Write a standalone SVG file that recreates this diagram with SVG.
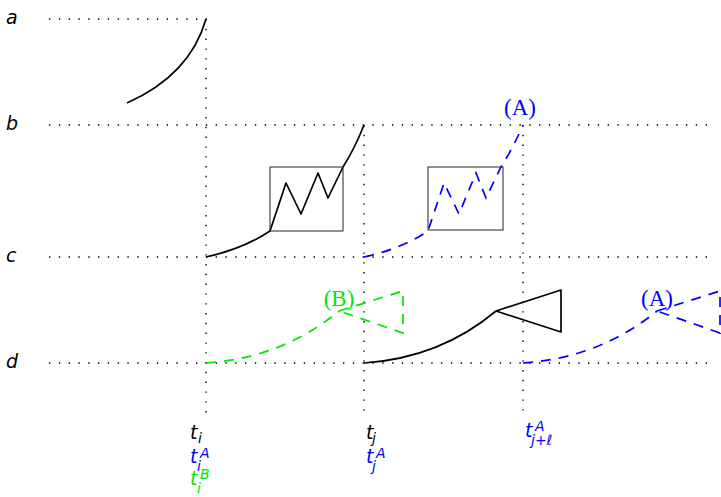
<svg xmlns="http://www.w3.org/2000/svg" width="721" height="497" viewBox="0 0 721 497">
<style>
.dot{stroke:#000;stroke-width:1.4;stroke-dasharray:1.4 8.4;fill:none}
.blk{stroke:#000;stroke-width:1.7;fill:none;stroke-linejoin:round}
.box{stroke:#222;stroke-width:1;fill:none}
.blu{stroke:#0000ff;stroke-width:1.7;fill:none;stroke-dasharray:10 8}
.grn{stroke:#00e600;stroke-width:1.7;fill:none;stroke-dasharray:10 8}
.lab{font-family:"DejaVu Sans",sans-serif;font-style:italic;font-size:19px}
.sc{font-family:"DejaVu Sans",sans-serif;font-style:italic;font-size:14px}
.ser{font-family:"Liberation Serif","DejaVu Serif",serif;font-size:23px;text-anchor:middle}
</style>
<rect width="721" height="497" fill="#fff"/>
<g id="grid">
<path class="dot" d="M49,19H207M49,125H707M49,257H707M49,363H707"/>
<path class="dot" d="M206,19V414M364,125V414M523,125V414"/>
</g>
<g id="levels" class="lab">
<text x="6" y="24">a</text>
<text x="6" y="130">b</text>
<text x="6" y="262">c</text>
<text x="6" y="368">d</text>
</g>
<g id="connectors">
<path class="blk" d="M127,103Q190,75 206,19"/>
<path class="blk" d="M206,257Q243,249 270,231L286,183L301,214L318,173L328,198L343,167Q355,148 364,125"/>
<rect class="box" x="270" y="167" width="73" height="64"/>
<path class="blu" d="M364,257Q401,249 428,231L444,183L459,214L476,173L486,198L501,167Q513,148 523,125"/>
<rect class="box" x="428" y="167" width="75" height="63"/>
<path class="blk" d="M364,363Q440,358 496,311M496,311L561,290V332Z"/>
<path class="grn" d="M206,363Q282,358 339,311M339,311L403,291V333Z"/>
<path class="blu" d="M523,363Q599,358 657,311M657,311L720,291V333Z"/>
</g>
<g id="tags" class="ser">
<text x="520" y="115" fill="#0000ff">(A)</text>
<text x="339" y="306" fill="#00e600">(B)</text>
<text x="657" y="306" fill="#0000ff">(A)</text>
</g>
<g id="times">
<g id="ti"><text class="lab" x="190" y="439">t</text><text class="sc" x="198" y="443">i</text></g>
<g id="tiA" fill="#0000ff"><text class="lab" x="190" y="463">t</text><text class="sc" x="200" y="458">A</text><text class="sc" x="197" y="471">i</text></g>
<g id="tiB" fill="#00e600"><text class="lab" x="190" y="485">t</text><text class="sc" x="200" y="479">B</text><text class="sc" x="197" y="493">i</text></g>
<g id="tj"><text class="lab" x="366" y="439">t</text><text class="sc" x="372" y="443">j</text></g>
<g id="tjA" fill="#0000ff"><text class="lab" x="366" y="463">t</text><text class="sc" x="376" y="458">A</text><text class="sc" x="372" y="471">j</text></g>
<g id="tjlA" fill="#0000ff"><text class="lab" x="525" y="437">t</text><text class="sc" x="535" y="431">A</text><text class="sc" x="531" y="445">j+ℓ</text></g>
</g>
</svg>
